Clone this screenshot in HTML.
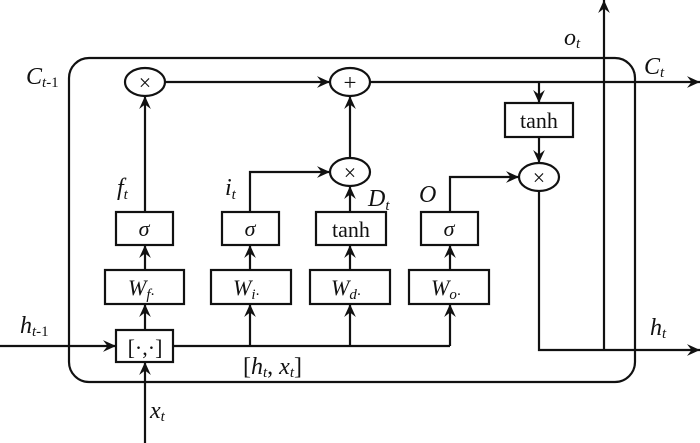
<!DOCTYPE html>
<html><head><meta charset="utf-8"><style>
html,body{margin:0;padding:0;background:#fff;}
svg{display:block}
text{font-family:"Liberation Serif",serif;fill:#111;}
.i{font-style:italic}
</style></head><body>
<svg width="700" height="443" viewBox="0 0 700 443" xmlns="http://www.w3.org/2000/svg">
<defs>
<marker id="a" viewBox="0 0 10 10" refX="10" refY="5" markerWidth="13" markerHeight="13" markerUnits="userSpaceOnUse" orient="auto">
<path d="M0,0.5 L10,5 L0,9.5 L3.5,5 z" fill="#111"/>
</marker>
</defs>
<g stroke="#111" stroke-width="2.2" fill="none">
<rect x="69" y="58" width="566" height="324" rx="20" ry="20"/>
<rect x="116" y="212" width="57" height="33" fill="#fff"/>
<rect x="105" y="270" width="79" height="34" fill="#fff"/>
<rect x="116" y="330" width="57" height="32" fill="#fff"/>
<rect x="222" y="212" width="57" height="33" fill="#fff"/>
<rect x="211" y="270" width="80" height="34" fill="#fff"/>
<rect x="316" y="212" width="70" height="33" fill="#fff"/>
<rect x="310" y="270" width="80" height="34" fill="#fff"/>
<rect x="421" y="212" width="57" height="33" fill="#fff"/>
<rect x="409" y="270" width="80" height="34" fill="#fff"/>
<rect x="505" y="103" width="68" height="34" fill="#fff"/>
<ellipse cx="145" cy="82" rx="20" ry="14"/>
<ellipse cx="350" cy="82" rx="20" ry="14"/>
<ellipse cx="350" cy="172" rx="20" ry="14"/>
<ellipse cx="539" cy="177" rx="20" ry="14"/>
<line x1="0" y1="346" x2="116" y2="346" marker-end="url(#a)"/>
<line x1="145" y1="443" x2="145" y2="362" marker-end="url(#a)"/>
<line x1="145" y1="330" x2="145" y2="304" marker-end="url(#a)"/>
<line x1="145" y1="270" x2="145" y2="245" marker-end="url(#a)"/>
<line x1="145" y1="212" x2="145" y2="96" marker-end="url(#a)"/>
<line x1="165" y1="82" x2="330" y2="82" marker-end="url(#a)"/>
<polyline points="173,346 450,346"/>
<line x1="250" y1="346" x2="250" y2="304" marker-end="url(#a)"/>
<line x1="250" y1="270" x2="250" y2="245" marker-end="url(#a)"/>
<polyline points="250,212 250,172 330,172" marker-end="url(#a)"/>
<line x1="350" y1="346" x2="350" y2="304" marker-end="url(#a)"/>
<line x1="350" y1="270" x2="350" y2="245" marker-end="url(#a)"/>
<line x1="350" y1="212" x2="350" y2="186" marker-end="url(#a)"/>
<line x1="350" y1="158" x2="350" y2="96" marker-end="url(#a)"/>
<line x1="450" y1="346" x2="450" y2="304" marker-end="url(#a)"/>
<line x1="450" y1="270" x2="450" y2="245" marker-end="url(#a)"/>
<polyline points="450,212 450,177 519,177" marker-end="url(#a)"/>
<line x1="370" y1="82" x2="700" y2="82" marker-end="url(#a)"/>
<line x1="539" y1="82" x2="539" y2="103" marker-end="url(#a)"/>
<line x1="539" y1="137" x2="539" y2="163" marker-end="url(#a)"/>
<polyline points="539,191 539,350 700,350" marker-end="url(#a)"/>
<line x1="604" y1="350" x2="604" y2="0" marker-end="url(#a)"/>
</g>
<g font-size="22">
<text x="145" y="90" text-anchor="middle" font-family="DejaVu Sans" font-size="22">×</text>
<text x="350" y="90" text-anchor="middle" font-family="DejaVu Sans" font-size="23">+</text>
<text x="350" y="180" text-anchor="middle" font-family="DejaVu Sans" font-size="22">×</text>
<text x="539" y="185" text-anchor="middle" font-family="DejaVu Sans" font-size="22">×</text>
<text x="144" y="236" text-anchor="middle" class="i">σ</text>
<text x="250" y="236" text-anchor="middle" class="i">σ</text>
<text x="449" y="236" text-anchor="middle" class="i">σ</text>
<text x="351" y="237" text-anchor="middle">tanh</text>
<text x="539" y="128" text-anchor="middle">tanh</text>
<text x="128" y="295" class="i">W<tspan font-size="15" dy="4">f·</tspan></text>
<text x="233" y="295" class="i">W<tspan font-size="15" dy="4">i·</tspan></text>
<text x="331" y="295" class="i">W<tspan font-size="15" dy="4">d·</tspan></text>
<text x="431" y="295" class="i">W<tspan font-size="15" dy="4">o·</tspan></text>
<text x="145" y="355" text-anchor="middle">[·,·]</text>
<text x="26" y="84" class="i" font-size="24">C<tspan font-size="15" dy="3">t</tspan><tspan font-size="15" font-style="normal">-1</tspan></text>
<text x="117" y="195" class="i" font-size="24">f<tspan font-size="15" dy="4">t</tspan></text>
<text x="225" y="195" class="i" font-size="24">i<tspan font-size="15" dy="4">t</tspan></text>
<text x="368" y="206" class="i" font-size="24">D<tspan font-size="15" dy="4">t</tspan></text>
<text x="419" y="202" class="i" font-size="24">O</text>
<text x="564" y="45" class="i" font-size="24">o<tspan font-size="15" dy="3">t</tspan></text>
<text x="644" y="74" class="i" font-size="24">C<tspan font-size="15" dy="3">t</tspan></text>
<text x="650" y="335" class="i" font-size="24">h<tspan font-size="15" dy="3">t</tspan></text>
<text x="20" y="333" class="i" font-size="24">h<tspan font-size="15" dy="3">t</tspan><tspan font-size="15" font-style="normal">-1</tspan></text>
<text x="243" y="374" font-size="24">[<tspan class="i">h</tspan><tspan class="i" font-size="15" dy="3">t</tspan><tspan dy="-3">, </tspan><tspan class="i">x</tspan><tspan class="i" font-size="15" dy="3">t</tspan><tspan dy="-3">]</tspan></text>
<text x="150" y="418" class="i" font-size="24">x<tspan font-size="15" dy="3">t</tspan></text>
</g>
</svg>
</body></html>
